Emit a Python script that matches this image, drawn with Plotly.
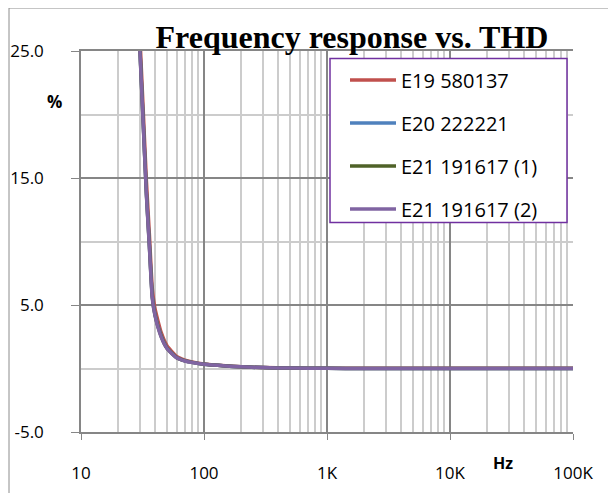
import plotly.graph_objects as go

# Частоты, Гц
freq = [30, 32, 34, 36, 38, 40, 45, 50, 60, 70, 80, 100, 150, 200, 300, 500,
        1000, 2000, 5000, 10000, 20000, 50000, 100000]

# THD, %
e19 = [26.5, 20.5, 14.8, 10.5, 6.3, 4.7, 2.8, 1.8, 0.95, 0.66, 0.52, 0.36, 0.22, 0.14, 0.08, 0.04,
       0.02, 0.01, 0.01, 0.01, 0.01, 0.01, 0.01]
e20 = [25.6, 19.6, 13.9, 9.7, 5.7, 4.25, 2.55, 1.62, 0.86, 0.6, 0.48, 0.33, 0.2, 0.13, 0.07, 0.03,
       0.01, 0.0, 0.0, 0.0, 0.0, 0.0, 0.0]
e21_1 = [25.5, 19.5, 13.8, 9.6, 5.6, 4.2, 2.5, 1.6, 0.85, 0.6, 0.48, 0.33, 0.2, 0.13, 0.07, 0.03,
         0.01, 0.0, 0.0, 0.0, 0.0, 0.0, 0.0]
e21_2 = [25.4, 19.4, 13.7, 9.5, 5.5, 4.15, 2.45, 1.58, 0.84, 0.59, 0.47, 0.33, 0.2, 0.13, 0.07, 0.03,
         0.01, 0.0, 0.0, 0.0, 0.0, 0.0, 0.0]

names = ["E19 580137", "E20 222221", "E21 191617 (1)", "E21 191617 (2)"]
colors = ["#C0504D", "#4F81BD", "#4F6228", "#8064A2"]
series = [e19, e20, e21_1, e21_2]

x_ticks = [10, 100, 1000, 10000, 100000]
x_labels = ["10", "100", "1K", "10K", "100K"]
y_ticks = [25, 15, 5, -5]
y_labels = ["25.0", "15.0", "5.0", "-5.0"]


# пиксели страницы -> доли области построения
def px(x):
    return (x - 81) / 492


def py(y):
    return (432.5 - y) / 381


fig = go.Figure()

for name, color, vals in zip(names, colors, series):
    fig.add_trace(go.Scatter(
        x=freq, y=vals, mode="lines", name=name,
        legendgroup=name,
        line=dict(color=color, width=3.5, shape="spline", smoothing=0.5),
    ))

minor_x = [m * 10 ** d for d in range(1, 5) for m in range(2, 10)]

fig.update_xaxes(
    type="log", range=[1, 5], automargin=False,
    tickvals=x_ticks, ticktext=x_labels,
    showgrid=True, gridcolor="#868686", gridwidth=1.5,
    ticks="outside", ticklen=6, tickcolor="#868686",
    showline=True, linecolor="#868686", linewidth=1.5, mirror=True,
    tickfont=dict(family="Open Sans", size=17, color="#000"),
    ticklabelstandoff=19,
    minor=dict(tickvals=minor_x, showgrid=True, gridcolor="#cccccc", gridwidth=1.5, ticks=""),
    zeroline=False,
)
fig.update_yaxes(
    range=[-5, 25], automargin=False,
    tickvals=y_ticks, ticktext=y_labels,
    showgrid=True, gridcolor="#868686", gridwidth=2,
    ticks="outside", ticklen=8, tickcolor="#868686",
    showline=True, linecolor="#868686", linewidth=1.5,
    tickfont=dict(family="Open Sans", size=17, color="#000"),
    ticklabelstandoff=24,
    minor=dict(tickvals=[20, 10, 0], showgrid=True, gridcolor="#cccccc", gridwidth=1.5, ticks=""),
    zeroline=False,
)

# Рамка легенды
fig.add_shape(type="rect", xref="paper", yref="paper",
              x0=px(330), x1=px(567), y0=py(223), y1=py(59),
              line=dict(color="#7030A0", width=1.5), fillcolor="white", layer="above")

# Внешняя рамка
fig.add_shape(type="rect", xref="paper", yref="paper",
              x0=px(9), x1=px(660), y0=py(540), y1=py(8.5),
              line=dict(color="#8c8c8c", width=1), fillcolor="rgba(0,0,0,0)")

fig.add_annotation(text="<b>%</b>", xref="paper", yref="paper",
                   x=px(44.5), y=py(88.5),
                   showarrow=False, font=dict(family="Open Sans", size=17, color="#000"))
fig.add_annotation(text="<b>Hz</b>", xref="paper", yref="paper",
                   x=px(515), y=py(476),
                   showarrow=False, font=dict(family="Open Sans", size=16, color="#000"))

fig.update_layout(
    width=616, height=493,
    margin=dict(l=73, r=51, t=43, b=69, autoexpand=False),
    paper_bgcolor="white", plot_bgcolor="white",
    title=dict(text="<b>Frequency response vs. THD</b>",
               x=344 / 616, y=1 - 28.5 / 493, xanchor="center", yanchor="middle",
               font=dict(family="Liberation Serif", size=32, color="#000")),
    legend=dict(x=px(345), y=py(61), xanchor="left", yanchor="top",
                bgcolor="rgba(0,0,0,0)", borderwidth=0,
                font=dict(family="Open Sans", size=20, color="#000"),
                itemwidth=46, tracegroupgap=14),
    showlegend=True,
)

fig.write_html("out.html")
